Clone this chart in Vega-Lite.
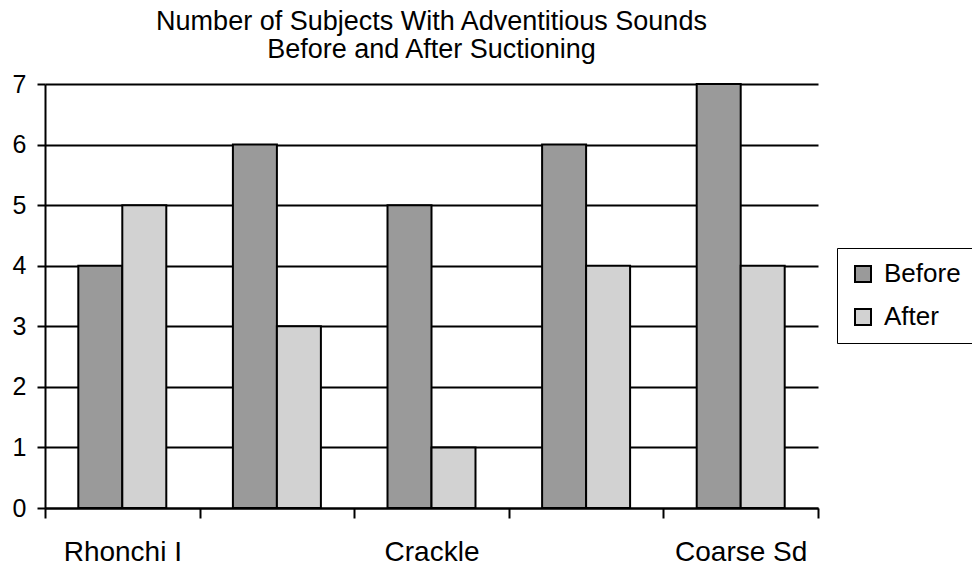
{
  "$schema": "https://vega.github.io/schema/vega-lite/v6.json",
  "width": 773,
  "height": 424,
  "autosize": {"type": "none"},
  "padding": {"left": 45, "top": 84, "right": 154, "bottom": 61},
  "background": "white",
  "config": {
    "font": "Liberation Sans",
    "view": {"stroke": null}
  },
  "title": {
    "text": ["Number of Subjects With Adventitious Sounds", "Before and After Suctioning"],
    "fontSize": 27,
    "fontWeight": "normal",
    "color": "black",
    "anchor": "middle",
    "lineHeight": 28,
    "offset": 8
  },
  "data": {
    "values": [
      {"sound": "Rhonchi I", "time": "Before", "count": 4},
      {"sound": "Rhonchi I", "time": "After", "count": 5},
      {"sound": "Rhonchi E", "time": "Before", "count": 6},
      {"sound": "Rhonchi E", "time": "After", "count": 3},
      {"sound": "Crackle", "time": "Before", "count": 5},
      {"sound": "Crackle", "time": "After", "count": 1},
      {"sound": "Wheeze", "time": "Before", "count": 6},
      {"sound": "Wheeze", "time": "After", "count": 4},
      {"sound": "Coarse Sd", "time": "Before", "count": 7},
      {"sound": "Coarse Sd", "time": "After", "count": 4}
    ]
  },
  "mark": {"type": "bar", "stroke": "black", "strokeWidth": 2},
  "encoding": {
    "x": {
      "field": "sound",
      "type": "nominal",
      "sort": ["Rhonchi I", "Rhonchi E", "Crackle", "Wheeze", "Coarse Sd"],
      "scale": {"paddingInner": 0, "paddingOuter": 0},
      "axis": {
        "title": null,
        "labelAngle": 0,
        "labelFontSize": 28,
        "labelColor": "black",
        "labelPadding": 20,
        "labelExpr": "indexof(['Rhonchi I','Crackle','Coarse Sd'], datum.value) >= 0 ? datum.label : ''",
        "tickBand": "extent",
        "tickSize": 10,
        "tickWidth": 2,
        "tickColor": "black",
        "domainColor": "black",
        "domainWidth": 2,
        "grid": false
      }
    },
    "xOffset": {
      "field": "time",
      "type": "nominal",
      "sort": ["Before", "After"],
      "scale": {"paddingInner": 0, "paddingOuter": 0.757}
    },
    "y": {
      "field": "count",
      "type": "quantitative",
      "scale": {"domain": [0, 7], "nice": false},
      "axis": {
        "title": null,
        "values": [0, 1, 2, 3, 4, 5, 6, 7],
        "labelFontSize": 25,
        "labelColor": "black",
        "labelPadding": 11,
        "tickSize": 8,
        "tickWidth": 2,
        "tickColor": "black",
        "domainColor": "black",
        "domainWidth": 2,
        "grid": true,
        "gridColor": "black",
        "gridWidth": 2,
        "gridOpacity": 1
      }
    },
    "color": {
      "field": "time",
      "type": "nominal",
      "sort": ["Before", "After"],
      "scale": {"domain": ["Before", "After"], "range": ["#9a9a9a", "#d2d2d2"]},
      "legend": {
        "title": null,
        "orient": "none",
        "legendX": 792,
        "legendY": 164,
        "symbolType": "square",
        "symbolSize": 256,
        "symbolStrokeColor": "black",
        "symbolStrokeWidth": 2,
        "labelFontSize": 26,
        "labelColor": "black",
        "labelOffset": 8,
        "rowPadding": 17,
        "padding": 13,
        "strokeColor": "black",
        "fillColor": "white"
      }
    }
  }
}
